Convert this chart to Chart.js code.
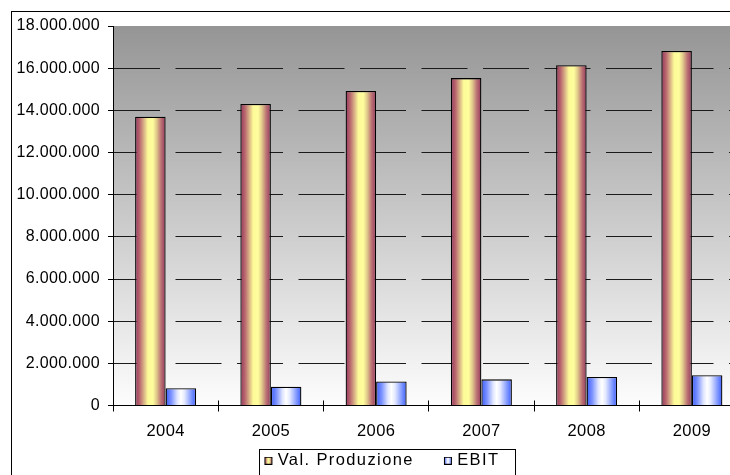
<!DOCTYPE html>
<html>
<head>
<meta charset="utf-8">
<script src="https://cdn.jsdelivr.net/npm/chart.js@4/dist/chart.umd.min.js"></script>
<style>
  html, body { margin: 0; padding: 0; background: #fff; overflow: hidden; }
  #wrap { position: relative; width: 770px; height: 480px; }
</style>
</head>
<body>
<div id="wrap"><canvas id="chart"></canvas></div>
<script>
// Data
const years = ['2004', '2005', '2006', '2007', '2008', '2009'];
const valoreProduzione = [13700000, 14300000, 14920000, 15530000, 16140000, 16820000];
const ebit = [820000, 890000, 1140000, 1240000, 1350000, 1440000];
const seriesNames = ['Val. Produzione', 'EBIT'];
const yMax = 18000000;
const yStep = 2000000;

// Styling
const FONT = "'Liberation Sans', Arial, Helvetica, sans-serif";
const CAT_PCT = 0.58;
const AXIS_SPACING = '0.35px';
const LEGEND_SPACING = '1.4px';
const LEGEND_BOX = 28;
const VAL_STOPS = [[0, '#96365c'], [0.15, '#b8666e'], [0.3, '#dcb888'], [0.42, '#fdfa98'],
                   [0.58, '#fffe9c'], [0.7, '#e2cc8c'], [0.85, '#bb7274'], [1, '#96365c']];
const EBIT_STOPS = [[0, '#3a5cff'], [0.18, '#7b92ff'], [0.38, '#dfe5ff'], [0.5, '#ffffff'],
                    [0.62, '#e4e9ff'], [0.82, '#8aa0ff'], [1, '#3a5cff']];

// Italian thousands separator
function fmt(v) {
  return String(Math.round(v)).replace(/\B(?=(\d{3})+(?!\d))/g, '.');
}

// Horizontal "cylinder" gradient spanning each bar
function barFill(stops) {
  return (ctx) => {
    const chart = ctx.chart;
    const xs = chart.scales.x;
    if (!xs || ctx.type !== 'data') return stops[0][1];
    const n = chart.data.labels.length;
    const cat = (xs.right - xs.left) / n;
    const group = cat * CAT_PCT;
    const w = group / chart.data.datasets.length;
    const left = xs.getPixelForValue(ctx.dataIndex) - group / 2 + w * ctx.datasetIndex;
    const g = chart.ctx.createLinearGradient(left, 0, left + w, 0);
    stops.forEach(([o, c]) => g.addColorStop(o, c));
    return g;
  };
}

// Legend marker: 8px gradient square sitting at the right end of the marker image,
// so that it ends up just before the label text
function swatch(stops) {
  const c = document.createElement('canvas');
  c.width = 36; c.height = 8;
  const x = c.getContext('2d');
  const ox = 27;
  const g = x.createLinearGradient(ox, 0, ox + 8, 0);
  stops.forEach(([o, col]) => g.addColorStop(o, col));
  x.fillStyle = g;
  x.fillRect(ox, 0, 8, 8);
  x.strokeStyle = '#000';
  x.lineWidth = 1;
  x.strokeRect(ox + 0.5, 0.5, 7, 7);
  return c;
}
const swatches = [swatch(VAL_STOPS), swatch(EBIT_STOPS)];

// Background, outer frame, inner tick halves and legend frame
const chartFrame = {
  id: 'chartFrame',
  beforeUpdate(chart) {
    const lg = chart.legend;
    if (lg && !lg.__spaced) {
      lg.__spaced = true;
      const spaced = (fn) => function (...args) {
        const c = this.ctx;
        c.save();
        c.letterSpacing = LEGEND_SPACING;
        const r = fn.apply(this, args);
        c.restore();
        return r;
      };
      lg.fit = spaced(lg.fit);
      lg.draw = spaced(lg.draw);
    }
  },
  beforeDraw(chart) {
    const { ctx, chartArea: a } = chart;
    ctx.letterSpacing = AXIS_SPACING;
    ctx.save();
    ctx.fillStyle = '#fff';
    ctx.fillRect(0, 0, chart.width, chart.height);
    const g = ctx.createLinearGradient(0, a.top, 0, a.bottom);
    g.addColorStop(0, '#959595');
    g.addColorStop(1, '#fdfdfd');
    ctx.fillStyle = g;
    ctx.fillRect(a.left, a.top, a.right - a.left, a.bottom - a.top);
    ctx.strokeStyle = '#000';
    ctx.lineWidth = 1;
    ctx.strokeRect(11.5, 11.5, 2000, 2000);
    ctx.restore();
  },
  afterDraw(chart) {
    const { ctx, chartArea: a } = chart;
    const xs = chart.scales.x;
    const n = chart.data.labels.length;
    const cat = (xs.right - xs.left) / n;
    ctx.save();
    ctx.strokeStyle = '#000';
    ctx.lineWidth = 1;
    ctx.beginPath();
    for (let i = 1; i <= n; i++) {
      const px = Math.round(xs.left + i * cat - 0.5) + 0.5;
      ctx.moveTo(px, a.bottom - 5);
      ctx.lineTo(px, a.bottom);
    }
    ctx.stroke();
    const hb = chart.legend && chart.legend.legendHitBoxes;
    if (hb && hb.length) {
      const last = hb[hb.length - 1];
      const l = Math.round(hb[0].left + LEGEND_BOX - 10) + 0.5;
      const r = Math.round(last.left + last.width + 16) + 0.5;
      const t = Math.round(hb[0].top - 3.5) + 0.5;
      ctx.strokeRect(l, t, r - l, 60);
    }
    ctx.restore();
  }
};

new Chart(document.getElementById('chart'), {
  type: 'bar',
  data: {
    labels: years,
    datasets: [
      { label: seriesNames[0], data: valoreProduzione, backgroundColor: barFill(VAL_STOPS),
        borderColor: '#000', borderWidth: 1.3, borderSkipped: 'start' },
      { label: seriesNames[1], data: ebit, backgroundColor: barFill(EBIT_STOPS),
        borderColor: '#000', borderWidth: 1.3, borderSkipped: 'start' }
    ]
  },
  options: {
    responsive: true,
    maintainAspectRatio: false,
    animation: false,
    devicePixelRatio: 1,
    layout: { padding: { left: -3.7, right: 25.5, top: 26, bottom: 1 } },
    datasets: { bar: { categoryPercentage: CAT_PCT, barPercentage: 1 } },
    scales: {
      x: {
        offset: true,
        grid: { display: true, drawOnChartArea: false, drawTicks: true, tickLength: 6,
                tickColor: '#000', tickWidth: 1 },
        border: { display: true, color: '#000', width: 1 },
        ticks: { color: '#000', font: { family: FONT, size: 16.5 }, padding: 10,
                 maxRotation: 0, autoSkip: false },
        afterFit: (s) => { s.height = 40; }
      },
      y: {
        min: 0,
        max: yMax,
        grid: {
          color: (c) => (c.tick && c.tick.value >= yMax ? 'rgba(0,0,0,0)' : '#1a1a1a'),
          lineWidth: 1, tickLength: 5, tickColor: '#000', tickBorderDash: []
        },
        border: { display: true, color: '#000', width: 1, dash: [46, 15.5] },
        ticks: { stepSize: yStep, padding: 8, color: '#000',
                 font: { family: FONT, size: 16 }, callback: (v) => fmt(v) },
        afterFit: (s) => { s.width = 116.7; }
      }
    },
    plugins: {
      tooltip: { enabled: false },
      legend: {
        position: 'bottom',
        align: 'center',
        labels: {
          color: '#000',
          font: { family: FONT, size: 16.5 },
          usePointStyle: true,
          pointStyleWidth: LEGEND_BOX,
          boxWidth: LEGEND_BOX,
          boxHeight: 8,
          padding: 7,
          generateLabels: (chart) => chart.data.datasets.map((ds, i) => ({
            text: ds.label,
            pointStyle: swatches[i],
            fillStyle: 'rgba(0,0,0,0)',
            strokeStyle: 'rgba(0,0,0,0)',
            lineWidth: 0,
            fontColor: '#000',
            hidden: !chart.isDatasetVisible(i),
            datasetIndex: i
          }))
        }
      }
    }
  },
  plugins: [chartFrame]
});
</script>
</body>
</html>
